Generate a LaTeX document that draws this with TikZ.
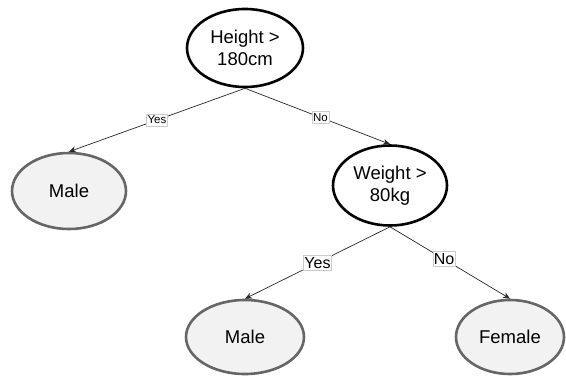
\documentclass[tikz,border=0pt]{standalone}
\usepackage{fontspec}
\setmainfont{Liberation Sans}
\usetikzlibrary{shapes.geometric,arrows.meta}
\begin{document}
\begin{tikzpicture}[x=1pt,y=1pt,
  decision/.style={ellipse,draw=black,line width=2.6pt,fill=white,inner sep=0pt,
    align=center,font=\fontsize{18.5}{22}\selectfont},
  leaf/.style={ellipse,draw=black!60,line width=2.6pt,fill=black!5,inner sep=0pt,
    align=center,font=\fontsize{18.5}{22}\selectfont},
  link/.style={draw=black!85,line width=0.7pt,-{Stealth[length=7pt,width=6pt]}},
  tag/.style={fill=white,draw=black!20,line width=0.5pt,inner xsep=1pt,inner ysep=2pt},
  smalltag/.style={tag,font=\fontsize{11.5}{13}\selectfont},
  bigtag/.style={tag,font=\fontsize{16}{18}\selectfont}]
  \useasboundingbox (0,0) rectangle (566,376);
  \node[decision,minimum width=116pt,minimum height=78pt] (root) at (245,328) {Height >\\180cm};
  \node[leaf,minimum width=114pt,minimum height=76pt] (male1) at (69,185) {Male};
  \node[decision,minimum width=114pt,minimum height=80pt] (weight) at (390,190.5) {Weight >\\80kg};
  \node[leaf,minimum width=118pt,minimum height=74pt] (male2) at (245,39) {Male};
  \node[leaf,minimum width=108pt,minimum height=74pt] (female) at (510,39) {Female};
  \draw[link] (root.south) -- node[smalltag] {Yes} (male1.north);
  \draw[link] (root.south) -- node[smalltag,pos=0.52] {No} (weight.north);
  \draw[link] (weight.south) -- node[bigtag,pos=0.5] {Yes} (male2.north);
  \draw[link] (weight.south) -- node[bigtag,pos=0.45] {No} (female.north);
\end{tikzpicture}
\end{document}
